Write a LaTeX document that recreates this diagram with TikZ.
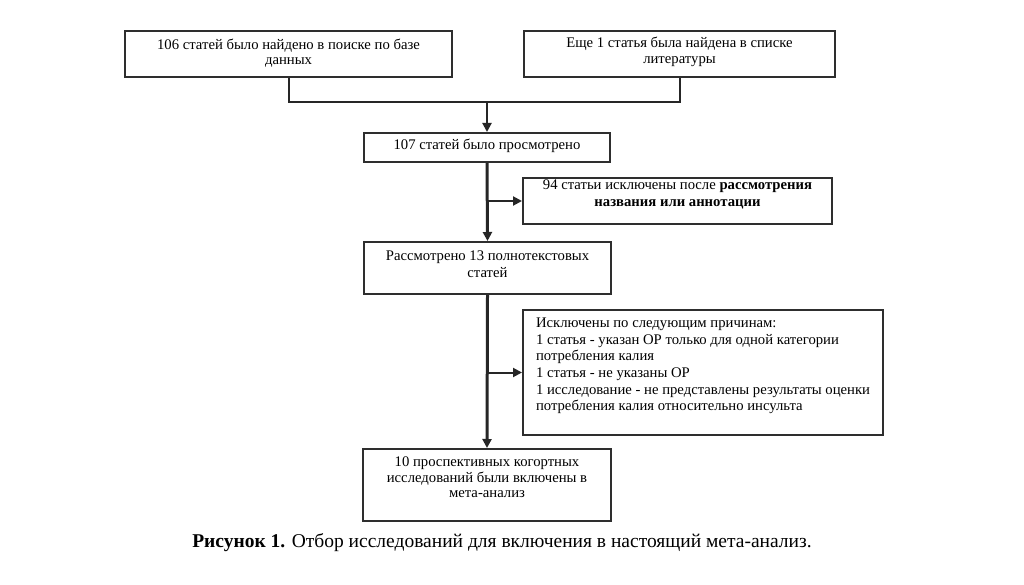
\documentclass[tikz,border=0pt]{standalone}
\usepackage{fontspec}
\setmainfont{Liberation Serif}
\usetikzlibrary{arrows.meta,calc}
\newcommand{\bxt}[4]{\parbox[c][#2][t]{#1}{\vspace*{#3}#4}}
\tikzset{
  box/.style={draw=black!82, line width=2pt, inner sep=0pt, fill=white},
  conn/.style={draw=black!85, line width=2pt},
  mainline/.style={draw=black!85, line width=3pt},
  arr/.style={-{Triangle[length=9pt,width=9pt]}}
}
\begin{document}
\begin{tikzpicture}[x=1pt,y=-1pt]
\useasboundingbox (0,0) rectangle (1024,585);
\fill[white] (0,0) rectangle (1024,585);
\node[box] (b1) at (288.5,54) {\bxt{327pt}{46pt}{8pt}{\fontsize{14.7}{14.5}\selectfont\centering 106 статей было найдено в поиске по базе\\ данных\par}};
\node[box] (b2) at (679.5,54) {\bxt{311pt}{46pt}{6pt}{\fontsize{14.7}{15.5}\selectfont\centering Еще 1 статья была найдена в списке\\ литературы\par}};
\node[box] (b3) at (487,147.5) {\bxt{246pt}{29pt}{6pt}{\fontsize{14.7}{15}\selectfont\centering 107 статей было просмотрено\par}};
\node[box] (b5) at (677.5,201) {\bxt{309pt}{46pt}{2pt}{\fontsize{14.7}{16.5}\selectfont\centering 94 статьи исключены после \textbf{рассмотрения}\\ \textbf{названия или аннотации}\par}};
\node[box] (b4) at (487.5,268) {\bxt{247pt}{52pt}{9pt}{\fontsize{14.7}{16.5}\selectfont\centering Рассмотрено 13 полнотекстовых\\ статей\par}};
\node[box] (b6) at (703,372.5) {\bxt{360pt}{125pt}{8pt}{\fontsize{14.7}{16.6}\selectfont\raggedright\leftskip=13pt Исключены по следующим причинам:\\ 1 статья - указан ОР только для одной категории\\ потребления калия\\ 1 статья - не указаны ОР\\ 1 исследование - не представлены результаты оценки\\ потребления калия относительно инсульта\par}};
\node[box] (b7) at (487,485) {\bxt{248pt}{72pt}{8pt}{\fontsize{14.7}{15.5}\selectfont\centering 10 проспективных когортных\\ исследований были включены в\\ мета-анализ\par}};
\node[font=\fontsize{19.5}{22}\selectfont, inner sep=0pt] (cap) at (502,543) {\textbf{Рисунок 1.} Отбор исследований для включения в настоящий мета-анализ.};
% connectors
\coordinate (j) at ($(b3.north)+(0,-30)$);
\draw[conn] (b1.south) |- (j) -| (b2.south);
\draw[conn,arr] (j) -- (b3.north);
\draw[conn,arr] (b3.south |- b5.west) -- (b5.west);
\draw[conn,arr] (b4.south |- b6.west) -- (b6.west);
\draw[mainline,arr] (b3.south) -- (b4.north);
\draw[mainline,arr] (b4.south) -- (b7.north);
\end{tikzpicture}
\end{document}
